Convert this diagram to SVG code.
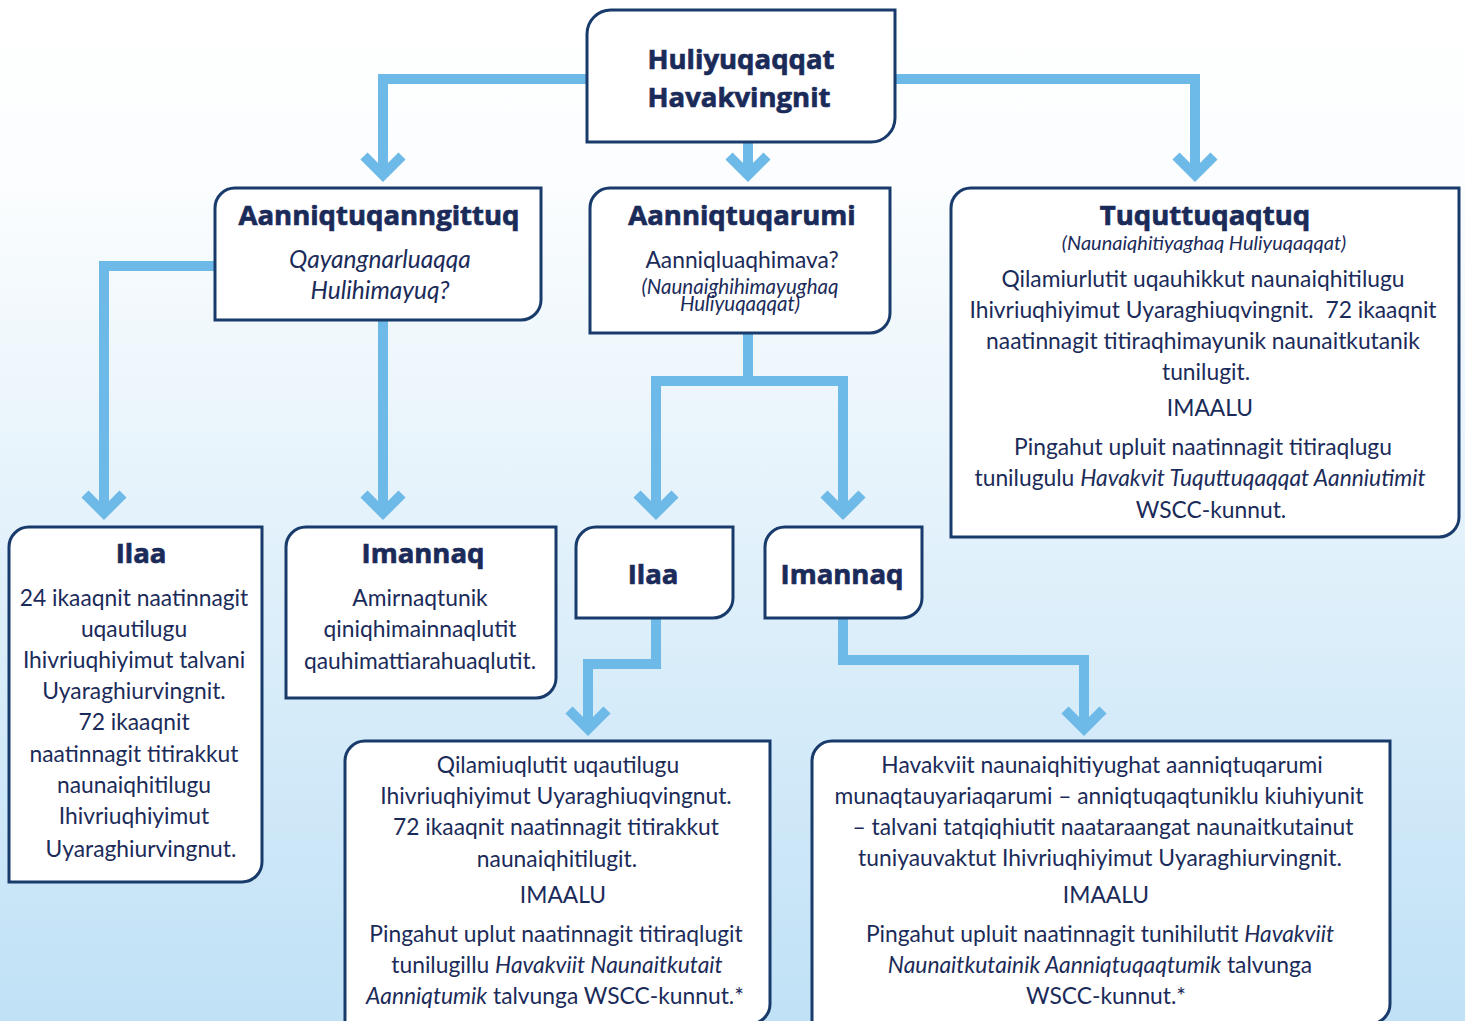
<svg xmlns="http://www.w3.org/2000/svg" width="1465" height="1021" viewBox="0 0 1465 1021">
<defs>
<linearGradient id="bg" x1="0" y1="0" x2="0" y2="1">
<stop offset="0" stop-color="#ffffff"/>
<stop offset="0.18" stop-color="#fbfdfe"/>
<stop offset="1" stop-color="#c0e1f6"/>
</linearGradient>
<marker id="chev" markerUnits="userSpaceOnUse" markerWidth="60" markerHeight="60" refX="0" refY="0" orient="auto" overflow="visible">
<path d="M-19,-19 L0,0 L-19,19" fill="none" stroke="#6db9e7" stroke-width="10" stroke-linejoin="miter" stroke-miterlimit="10"/>
</marker>
<style>
.box{fill:#ffffff;stroke:#183b6c;stroke-width:3}
.con{fill:none;stroke:#6db9e7;stroke-width:10;marker-end:url(#chev)}
text{font-family:Lato,"Open Sans","Liberation Sans",sans-serif;fill:#1b2b59;text-anchor:middle}
.t{font-family:"Open Sans",Lato,"Liberation Sans",sans-serif;font-weight:bold;font-size:27.5px;stroke:#1b2b59;stroke-width:0.7px}
.b{font-size:22.8px}
.i{font-style:italic}
.q{font-size:24.5px;font-style:italic}
.s{font-size:20.5px;font-style:italic}
</style>
</defs>
<rect x="0" y="0" width="1465" height="1021" fill="url(#bg)"/>
<g id="connectors">
<path class="con" d="M587,79 H383 V175"/>
<path class="con" d="M895,79 H1195 V175"/>
<path class="con" d="M748,142 V175"/>
<path class="con" d="M215,266 H104 V513"/>
<path class="con" d="M383,320 V513"/>
<path class="con" d="M748,333 V381 H656 V513"/>
<path class="con" d="M748,381 H843 V513"/>
<path class="con" d="M656,618 V664 H588 V729"/>
<path class="con" d="M843,618 V660 H1084 V729"/>
</g>
<g id="n-top">
<path class="box" d="M587,34 A24,24 0 0 1 611,10 H895 V118 A24,24 0 0 1 871,142 H587 Z"/>
<text class="t" x="741" y="69">Huliyuqaqqat</text>
<text class="t" x="739" y="107">Havakvingnit</text>
</g>
<g id="n-aanniqtuqanngittuq">
<path class="box" d="M215,208 A20,20 0 0 1 235,188 H541 V300 A20,20 0 0 1 521,320 H215 Z"/>
<text class="t" x="379" y="225">Aanniqtuqanngittuq</text>
<text class="q" x="380" y="268">Qayangnarluaqqa</text>
<text class="q" x="380" y="299">Hulihimayuq?</text>
</g>
<g id="n-aanniqtuqarumi">
<path class="box" d="M590,208 A20,20 0 0 1 610,188 H890 V313 A20,20 0 0 1 870,333 H590 Z"/>
<text class="t" x="742" y="225">Aanniqtuqarumi</text>
<text class="b" x="742" y="268">Aanniqluaqhimava?</text>
<text class="s" x="740" y="294">(Naunaighihimayughaq</text>
<text class="s" x="740" y="311">Huliyuqaqqat)</text>
</g>
<g id="n-tuquttuqaqtuq">
<path class="box" d="M951,208 A20,20 0 0 1 971,188 H1459 V517 A20,20 0 0 1 1439,537 H951 Z"/>
<text class="t" x="1205" y="225">Tuquttuqaqtuq</text>
<text class="s" x="1204" y="250" style="font-size:20px">(Naunaiqhitiyaghaq Huliyuqaqqat)</text>
<text class="b" x="1203" y="287">Qilamiurlutit uqauhikkut naunaiqhitilugu</text>
<text class="b" x="1203" y="318" xml:space="preserve">Ihivriuqhiyimut Uyaraghiuqvingnit.  72 ikaaqnit</text>
<text class="b" x="1203" y="349">naatinnagit titiraqhimayunik naunaitkutanik</text>
<text class="b" x="1206" y="380">tunilugit.</text>
<text class="b" x="1210" y="416">IMAALU</text>
<text class="b" x="1203" y="455">Pingahut upluit naatinnagit titiraqlugu</text>
<text class="b" x="1200" y="486">tunilugulu <tspan class="i">Havakvit Tuquttuqaqqat Aanniutimit</tspan></text>
<text class="b" x="1211" y="518">WSCC-kunnut.</text>
</g>
<g id="n-ilaa-left">
<path class="box" d="M9,547 A20,20 0 0 1 29,527 H262 V862 A20,20 0 0 1 242,882 H9 Z"/>
<text class="t" x="141" y="563">Ilaa</text>
<text class="b" x="134" y="606">24 ikaaqnit naatinnagit</text>
<text class="b" x="134" y="637">uqautilugu</text>
<text class="b" x="134" y="668">Ihivriuqhiyimut talvani</text>
<text class="b" x="134" y="699">Uyaraghiurvingnit.</text>
<text class="b" x="134" y="730">72 ikaaqnit</text>
<text class="b" x="134" y="762">naatinnagit titirakkut</text>
<text class="b" x="134" y="793">naunaiqhitilugu</text>
<text class="b" x="134" y="824">Ihivriuqhiyimut</text>
<text class="b" x="141" y="857">Uyaraghiurvingnut.</text>
</g>
<g id="n-imannaq-left">
<path class="box" d="M286,547 A20,20 0 0 1 306,527 H556 V678 A20,20 0 0 1 536,698 H286 Z"/>
<text class="t" x="423" y="563">Imannaq</text>
<text class="b" x="420" y="606">Amirnaqtunik</text>
<text class="b" x="420" y="637">qiniqhimainnaqlutit</text>
<text class="b" x="420" y="669">qauhimattiarahuaqlutit.</text>
</g>
<g id="n-ilaa-mid">
<path class="box" d="M576,547 A20,20 0 0 1 596,527 H733 V598 A20,20 0 0 1 713,618 H576 Z"/>
<text class="t" x="653" y="584">Ilaa</text>
</g>
<g id="n-imannaq-mid">
<path class="box" d="M765,547 A20,20 0 0 1 785,527 H922 V598 A20,20 0 0 1 902,618 H765 Z"/>
<text class="t" x="842" y="584">Imannaq</text>
</g>
<g id="n-bottom-left">
<path class="box" d="M345,761 A20,20 0 0 1 365,741 H770 V1004 A20,20 0 0 1 750,1024 H345 Z"/>
<text class="b" x="558" y="773">Qilamiuqlutit uqautilugu</text>
<text class="b" x="556" y="804">Ihivriuqhiyimut Uyaraghiuqvingnut.</text>
<text class="b" x="556" y="835">72 ikaaqnit naatinnagit titirakkut</text>
<text class="b" x="557" y="867">naunaiqhitilugit.</text>
<text class="b" x="563" y="903">IMAALU</text>
<text class="b" x="556" y="942">Pingahut uplut naatinnagit titiraqlugit</text>
<text class="b" x="557" y="973">tunilugillu <tspan class="i">Havakviit Naunaitkutait</tspan></text>
<text class="b" x="555" y="1004"><tspan class="i">Aanniqtumik</tspan> talvunga WSCC-kunnut.*</text>
</g>
<g id="n-bottom-right">
<path class="box" d="M812,761 A20,20 0 0 1 832,741 H1390 V1004 A20,20 0 0 1 1370,1024 H812 Z"/>
<text class="b" x="1102" y="773">Havakviit naunaiqhitiyughat aanniqtuqarumi</text>
<text class="b" x="1099" y="804">munaqtauyariaqarumi – anniqtuqaqtuniklu kiuhiyunit</text>
<text class="b" x="1103" y="835">– talvani tatqiqhiutit naataraangat naunaitkutainut</text>
<text class="b" x="1100" y="866">tuniyauvaktut Ihivriuqhiyimut Uyaraghiurvingnit.</text>
<text class="b" x="1106" y="903">IMAALU</text>
<text class="b" x="1100" y="942">Pingahut upluit naatinnagit tunihilutit <tspan class="i">Havakviit</tspan></text>
<text class="b" x="1100" y="973"><tspan class="i">Naunaitkutainik Aanniqtuqaqtumik</tspan> talvunga</text>
<text class="b" x="1106" y="1004">WSCC-kunnut.*</text>
</g>
</svg>
